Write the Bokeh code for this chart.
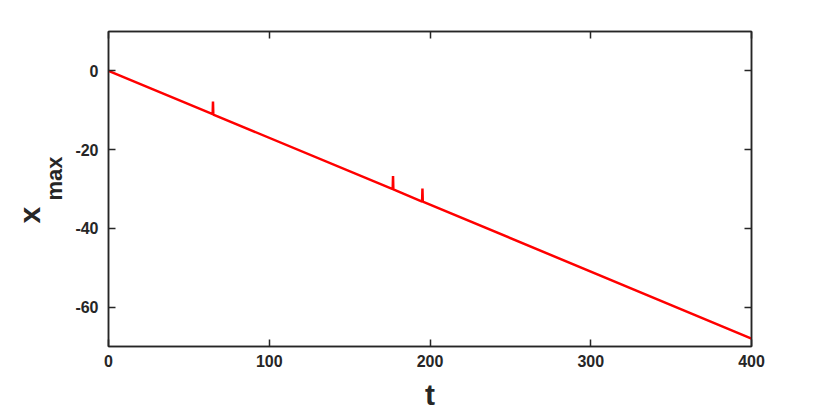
from bokeh.plotting import figure
from bokeh.models import LinearAxis, Range1d, Title, FixedTicker
from bokeh.embed import file_html
from bokeh.resources import INLINE

# data
t_vals = [0, 64.8, 65.0, 65.2, 176.8, 177.0, 177.2, 195.1, 195.3, 195.5, 400]
x_max_vals = [0, -11.0, -7.8, -11.1, -30.05, -26.7, -30.1, -33.2, -29.9, -33.2, -68.0]
x_ticks = [0, 100, 200, 300, 400]
y_ticks = [-60, -40, -20, 0]
y_tick_labels = ["-60", "-40", "-20", "0"]

FONT = "Liberation Sans"
DARK = "#262626"

p = figure(width=822, height=413, output_backend="svg", toolbar_location=None,
           x_range=Range1d(0, 400), y_range=Range1d(-70, 10),
           min_border_left=108, min_border_right=71, min_border_top=31, min_border_bottom=67,
           x_axis_location=None, y_axis_location=None)
p.grid.visible = False
p.outline_line_color = DARK
p.outline_line_width = 1.5
p.background_fill_color = "white"
p.border_fill_color = "white"

def style(ax, labels=True):
    ax.major_tick_in = 7
    ax.major_tick_out = 0
    ax.minor_tick_line_color = None
    ax.major_tick_line_color = DARK
    ax.major_tick_line_width = 1.5
    ax.axis_line_color = DARK
    ax.axis_line_width = 1.5
    ax.major_label_text_font = FONT
    ax.major_label_text_font_style = "bold"
    ax.major_label_text_font_size = "16px"
    ax.major_label_text_color = DARK
    if not labels:
        ax.major_label_text_font_size = "0px"
        ax.major_label_text_color = None

bx = LinearAxis(ticker=FixedTicker(ticks=x_ticks))
style(bx)
bx.major_label_standoff = 8
bx.axis_label = "t"
bx.axis_label_text_font = FONT
bx.axis_label_text_font_style = "bold"
bx.axis_label_text_font_size = "30px"
bx.axis_label_text_color = DARK
bx.axis_label_standoff = 8
p.add_layout(bx, "below")

tx = LinearAxis(ticker=FixedTicker(ticks=x_ticks))
style(tx, labels=False)
p.add_layout(tx, "above")

ly = LinearAxis(ticker=FixedTicker(ticks=y_ticks))
style(ly)
ly.major_label_standoff = 10
ly.major_label_overrides = {v: s for v, s in zip(y_ticks, y_tick_labels)}
p.add_layout(ly, "left")

ry = LinearAxis(ticker=FixedTicker(ticks=y_ticks))
style(ry, labels=False)
p.add_layout(ry, "right")

p.line(t_vals, x_max_vals, line_color="#ff0000", line_width=2.5)

# y-axis label "x_max": subscript and main letter as two stacked side titles
t_sub = Title(text="max", align="left", offset=146, standoff=12,
              text_font=FONT, text_font_style="bold", text_font_size="22px",
              text_color=DARK)
t_main = Title(text="x", align="left", offset=123, standoff=-25,
               text_font=FONT, text_font_style="bold", text_font_size="30px",
               text_color=DARK)
p.add_layout(t_sub, "left")
p.add_layout(t_main, "left")

open("out.html", "w").write(file_html(p, INLINE))
